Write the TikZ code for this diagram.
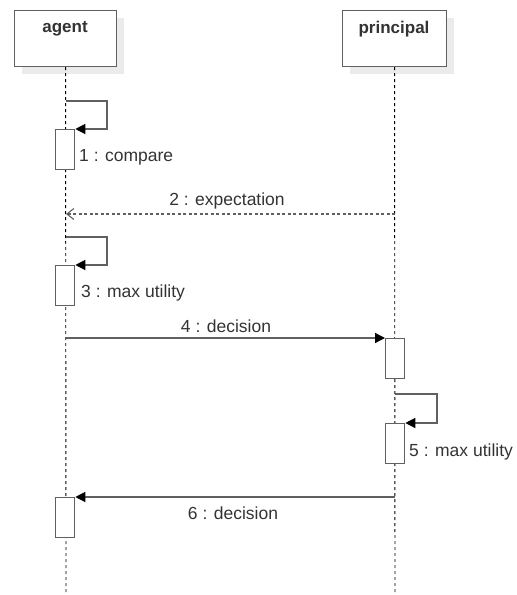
\documentclass[tikz,border=0pt]{standalone}
\usepackage{fontspec}
\setmainfont{Liberation Sans}
\usetikzlibrary{arrows.meta}
\definecolor{ln}{HTML}{606060}
\definecolor{tx}{HTML}{333333}
\definecolor{sh}{HTML}{EBEBEB}
\tikzset{
  head/.style={draw=ln, line width=1.1pt, fill=white, minimum width=102pt, minimum height=56pt, inner sep=0pt},
  headtxt/.style={font=\fontsize{17pt}{19pt}\selectfont\bfseries, text=tx},
  life/.style={draw=black, line width=0.9pt, dash pattern=on 3pt off 3pt},
  act/.style={draw=ln, line width=1.3pt, fill=white, minimum width=19pt, minimum height=40pt, inner sep=0pt},
  msg/.style={draw=ln, line width=1.3pt, -{Triangle[length=10pt,width=10pt,color=black]}},
  ret/.style={draw=ln, line width=1.1pt, dash pattern=on 3pt off 2.5pt, -{Straight Barb[length=7pt,width=11pt]}},
  lbl/.style={font=\fontsize{17.5pt}{19pt}\selectfont, text=tx, inner sep=1pt},
}
\begin{document}
\begin{tikzpicture}[x=1pt,y=-1pt]
\useasboundingbox (0,0) rectangle (517,595);
% shadows
\fill[sh] (22,18) rectangle (124,74);
\fill[sh] (350,18) rectangle (454,74);
% heads
\node[head, anchor=north west] (agent) at (14,10) {};
\node[headtxt] at (65,29) {agent};
\node[head, anchor=north west, minimum width=104pt] (principal) at (342,10) {};
\node[headtxt] at (394,29) {principal};
% lifelines
\coordinate (aend) at (66,595);
\coordinate (pend) at (395,595);
\draw[life] (agent.south) -- (aend);
\draw[life] (principal.south) -- (pend);
% activations
\node[act, anchor=north west] (a1) at (55,129) {};
\node[act, anchor=north west] (a3) at (55,265) {};
\node[act, anchor=north west] (p4) at (385,338) {};
\node[act, anchor=north west] (p5) at (385,423) {};
\node[act, anchor=north west] (a6) at (55,497) {};
% 1 self
\coordinate (s1) at (66,101);
\draw[msg] (s1) -- (107,101) -- (107,129) -- (a1.north east);
\node[lbl, anchor=west] at (78,157) {1 : compare};
% 2 return
\coordinate (r2s) at (395,214);
\coordinate (r2e) at (66,214);
\draw[ret] (r2s) -- (r2e);
\node[lbl] at (227,201) {2 : expectation};
% 3 self
\coordinate (s3) at (66,237);
\draw[msg] (s3) -- (107,237) -- (107,265) -- (a3.north east);
\node[lbl, anchor=west] at (80,293) {3 : max utility};
% 4
\coordinate (m4) at (66,338);
\draw[msg] (m4) -- (p4.north west);
\node[lbl] at (226,326) {4 : decision};
% 5 self
\coordinate (s5) at (395,394);
\draw[msg] (s5) -- (437,394) -- (437,423) -- (p5.north east);
\node[lbl, anchor=west] at (408,452) {5 : max utility};
% 6
\coordinate (m6) at (395,497);
\draw[msg] (m6) -- (a6.north east);
\node[lbl] at (233,513) {6 : decision};
\end{tikzpicture}
\end{document}
